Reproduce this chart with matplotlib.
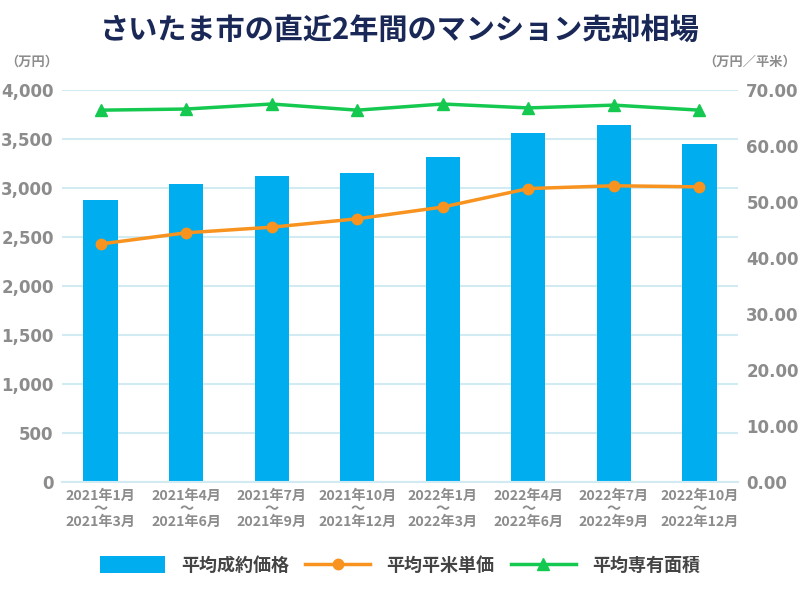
import matplotlib
matplotlib.use("Agg")
import matplotlib.pyplot as plt
import numpy as np
from matplotlib.lines import Line2D
from matplotlib.patches import Patch

plt.rcParams['font.family'] = ['Noto Sans CJK JP', 'DejaVu Sans']

categories = ["2021年1月\n～\n2021年3月", "2021年4月\n～\n2021年6月", "2021年7月\n～\n2021年9月",
              "2021年10月\n～\n2021年12月", "2022年1月\n～\n2022年3月", "2022年4月\n～\n2022年6月",
              "2022年7月\n～\n2022年9月", "2022年10月\n～\n2022年12月"]
price = [2880, 3040, 3120, 3150, 3315, 3560, 3640, 3450]
unit_price = [42.5, 44.5, 45.5, 47.0, 49.1, 52.4, 52.9, 52.7]
area = [66.4, 66.6, 67.5, 66.4, 67.5, 66.8, 67.3, 66.4]
left_ticks = [0, 500, 1000, 1500, 2000, 2500, 3000, 3500, 4000]
right_ticks = [0, 10, 20, 30, 40, 50, 60, 70]

bar_c = '#00aeef'
orange = '#f7931e'
green = '#14c850'
gray = '#8c8c8c'
grid_c = '#d2ebf3'

fig = plt.figure(figsize=(8, 6), dpi=100)
ax = fig.add_axes([0.0775, 0.1967, 0.845, 0.6533])
x = np.arange(len(categories))
ax.bar(x, price, width=0.4, color=bar_c, zorder=2)
ax.set_ylim(0, 4000)
ax.set_xlim(-0.45, len(categories) - 0.55)
ax.set_yticks(left_ticks)
ax.set_yticklabels([f"{v:,}" for v in left_ticks])
ax.yaxis.grid(True, color=grid_c, linewidth=1.5, zorder=0)
ax.set_axisbelow(True)
for s in ['top', 'right', 'left']:
    ax.spines[s].set_visible(False)
ax.spines['bottom'].set_color(grid_c)
ax.spines['bottom'].set_linewidth(1.5)
ax.tick_params(axis='both', length=0, colors=gray)
ax.tick_params(axis='y', labelsize=12, pad=6)
ax.tick_params(axis='x', pad=5)
ax.set_xticks(x)
ax.set_xticklabels(categories, fontsize=10.2, fontweight='bold', color=gray, linespacing=0.9)
for t in ax.get_yticklabels():
    t.set_fontweight('bold')
    t.set_family(['DejaVu Sans'])

ax2 = ax.twinx()
ax2.set_ylim(0, 70)
ax2.set_yticks(right_ticks)
ax2.set_yticklabels([f"{v:.2f}" for v in right_ticks])
for s in ['top', 'right', 'left', 'bottom']:
    ax2.spines[s].set_visible(False)
ax2.tick_params(axis='y', length=0, colors=gray, labelsize=12, pad=6)
for t in ax2.get_yticklabels():
    t.set_fontweight('bold')
    t.set_family(['DejaVu Sans'])
ax2.plot(x, unit_price, color=orange, linewidth=2.5, marker='o', markersize=7.5, zorder=3)
ax2.plot(x, area, color=green, linewidth=2.5, marker='^', markersize=8.5, zorder=3)

fig.text(0.5, 0.95, "さいたま市の直近2年間のマンション売却相場", ha='center', va='center',
         fontsize=21, fontweight='bold', color='#1a2858')
fig.text(0.006, 0.897, "（万円）", ha='left', va='center', fontsize=9.5, color=gray, fontweight='bold')
fig.text(0.995, 0.897, "（万円／平米）", ha='right', va='center', fontsize=9.5, color=gray, fontweight='bold')

handles = [Patch(facecolor=bar_c, edgecolor='none'),
           Line2D([0], [0], color=orange, linewidth=2.5, marker='o', markersize=7.5),
           Line2D([0], [0], color=green, linewidth=2.5, marker='^', markersize=8.5)]
labels = ["平均成約価格", "平均平米単価", "平均専有面積"]
leg = fig.legend(handles, labels, loc='center', bbox_to_anchor=(0.5, 0.058), ncol=3, frameon=False,
                 fontsize=13, handlelength=3.6, handleheight=1.0, columnspacing=0.9, handletextpad=0.9)
for t in leg.get_texts():
    t.set_color('#444444')
    t.set_fontweight('bold')

fig.savefig("out.png", dpi=100)
